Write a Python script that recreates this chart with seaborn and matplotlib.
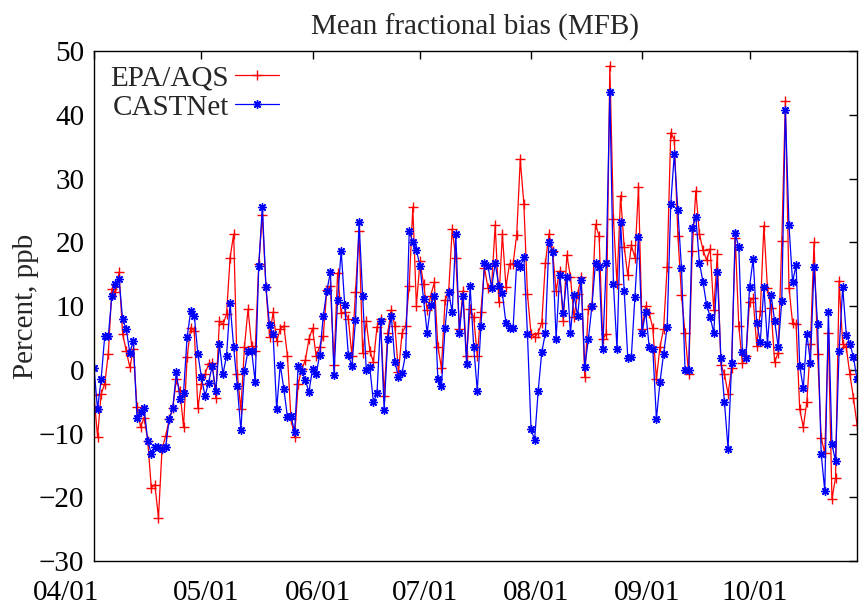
import numpy as np
import pandas as pd
import matplotlib
matplotlib.use("Agg")
import matplotlib.pyplot as plt
import matplotlib.dates as mdates
import matplotlib.transforms as mtransforms
import seaborn as sns

# daily MFB values, 04/01 .. 10/31
epa_aqs = [
    -4.0, -10.5, -3.8, -2.2, 2.5, 12.7, 12.2, 15.3, 5.6, 3.0,
    0.4, 3.2, -5.9, -9.0, -7.5, -11.1, -18.5, -18.0, -23.2, -12.4,
    -10.4, -7.8, -6.0, -1.5, -3.3, -9.0, 2.0, 6.6, 6.1, -6.0,
    -2.2, -0.7, 0.9, 1.1, -4.4, 7.6, 7.1, 8.7, 17.6, 21.3,
    -0.7, -6.2, 3.5, 9.5, 3.8, 3.0, 16.6, 24.3, 13.0, 5.2,
    9.0, 4.5, 6.4, 6.9, 2.2, -7.7, -10.6, -2.2, 0.1, 1.5,
    4.8, 6.5, 2.2, 3.6, 5.3, 12.5, 13.1, 0.8, 15.2, 8.9,
    9.0, 8.0, 2.2, 12.2, 21.8, 2.6, 7.6, 3.0, 1.2, 6.7,
    8.0, -4.1, 5.8, 9.4, 6.8, -0.4, 5.8, 6.8, 13.2, 25.5,
    10.0, 17.0, 13.5, 9.4, 11.6, 13.7, 3.6, 0.3, 10.9, 12.2,
    22.1, 17.5, 6.4, 12.4, 2.2, 9.5, 8.2, 2.2, 9.0, 16.0,
    12.8, 13.2, 22.7, 10.7, 21.3, 13.0, 16.6, 16.6, 21.2, 33.0,
    26.0, 11.9, 5.6, 5.1, 5.8, 7.4, 16.7, 21.3, 18.7, 12.4,
    15.5, 7.6, 18.0, 14.6, 8.3, 11.9, 14.6, -1.2, 9.5, 10.0,
    22.8, 21.0, 4.8, 5.6, 47.7, 23.7, 13.5, 27.3, 19.3, 14.8,
    19.5, 17.6, 28.7, 6.4, 10.0, 8.9, 6.5, -1.5, 3.6, 6.4,
    16.1, 37.2, 36.1, 21.0, 11.7, 5.7, -0.7, 18.7, 28.1, 21.3,
    18.8, 17.2, 19.0, 9.4, 18.1, 0.8, -0.7, -3.8, 0.3, 20.7,
    6.8, 1.0, 2.2, 10.7, 11.2, 3.8, 9.2, 22.6, 12.8, 9.7,
    1.2, 2.7, 20.2, 42.1, 12.9, 7.4, 7.1, -6.2, -9.0, -5.0,
    4.0, 20.0, 2.5, -10.7, -13.1, 5.8, -20.3, -16.9, 13.9, 4.1,
    3.5, -0.7, -4.4, -8.6,
]

castnet = [
    0.3, -6.2, -1.5, 5.3, 5.3, 11.6, 13.5, 14.2, 7.9, 6.4,
    2.7, 4.5, -7.5, -6.7, -6.0, -11.1, -13.2, -12.1, -12.1, -12.4,
    -12.1, -7.8, -6.0, -0.4, -4.6, -3.6, 5.1, 9.2, 8.5, 2.5,
    -1.2, -4.1, -2.0, 0.6, -3.3, 4.0, -0.7, 2.2, 10.4, 3.5,
    -2.5, -9.5, -0.2, 3.0, 3.0, -1.9, 16.3, 25.6, 13.0, 7.0,
    5.6, -6.2, 0.8, -3.0, -7.4, -7.2, -9.8, 0.6, -0.2, -1.6,
    -3.5, 0.1, -0.7, 2.3, 8.4, 12.4, 15.3, -0.8, 11.0, 18.7,
    10.1, 2.3, 0.6, 7.8, 23.2, 11.5, 0.0, 0.4, -5.1, -3.7,
    7.6, -6.3, 4.8, 8.5, 1.2, -1.1, -0.5, 2.5, 21.7, 20.1,
    18.8, 16.3, 11.1, 5.8, 10.1, 11.6, -1.5, -2.5, 6.6, 12.2,
    9.0, 21.3, 5.8, 11.6, 0.9, 13.1, 3.6, -3.3, 6.8, 16.7,
    16.2, 12.8, 16.7, 13.2, 12.0, 7.3, 6.6, 6.6, 16.8, 16.1,
    17.7, 5.6, -9.3, -11.0, -3.3, 2.8, 5.7, 20.0, 18.5, 4.9,
    14.8, 8.9, 14.6, 5.8, 11.7, 8.4, 14.1, 0.4, 4.8, 10.0,
    16.8, 16.1, 3.2, 16.7, 43.6, 13.5, 3.2, 23.1, 12.4, 1.9,
    2.0, 11.4, 20.9, 5.8, 9.1, 3.5, 3.2, -7.7, -1.9, 2.5,
    6.7, 26.0, 33.9, 25.0, 15.9, 0.0, 0.0, 22.3, 24.0, 16.8,
    13.8, 10.2, 8.3, 5.8, 15.3, 1.8, -5.1, -12.4, 1.0, 21.4,
    19.2, 2.8, 1.9, 13.0, 17.4, 7.4, 4.4, 13.0, 4.1, 11.7,
    7.7, 3.6, 10.8, 40.7, 22.7, 13.8, 16.4, 0.6, -2.9, 5.6,
    1.1, 16.1, 7.1, -13.2, -19.0, 9.1, -11.7, -14.3, 3.0, 13.0,
    5.5, 4.1, 2.0, -1.5,
]

dates = pd.date_range("2010-04-01", periods=len(epa_aqs), freq="D")

sns.set_style("white")
plt.rcParams["font.family"] = ["Liberation Serif", "DejaVu Serif"]
fs = 21

fig = plt.figure(figsize=(8.59, 6.05), dpi=100)
ax = fig.add_axes([0.1094, 0.0727, 0.8883, 0.8430])

sns.lineplot(x=dates, y=epa_aqs, ax=ax, color="red", linewidth=0.9,
             marker="+", markersize=7, markeredgewidth=1.0,
             markeredgecolor="red", label="EPA/AQS")
sns.lineplot(x=dates, y=castnet, ax=ax, color="blue", linewidth=0.9,
             marker=(8, 2, 0), markersize=6, markeredgewidth=1.0,
             markeredgecolor="blue", label="CASTNet")

ax.set_xlim(pd.Timestamp("2010-04-01"), pd.Timestamp("2010-10-31"))
ax.set_ylim(-30, 50)
ax.set_yticks(range(-30, 51, 10))
ax.xaxis.set_major_locator(mdates.MonthLocator())
ax.xaxis.set_major_formatter(mdates.DateFormatter("%m/%d"))

ax.tick_params(direction="in", length=6, width=1, top=True, right=True,
               labelsize=fs, colors="black")
ax.tick_params(axis="y", pad=7)
ax.tick_params(axis="x", pad=14)
for s in ax.spines.values():
    s.set_color("black")
    s.set_linewidth(1.0)

# gnuplot-like placement of the date labels
shift = mtransforms.ScaledTranslation(0.05, 0, fig.dpi_scale_trans)
xlabels = ax.get_xticklabels()
for lab in xlabels:
    lab.set_transform(lab.get_transform() + shift)
xlabels[0].set_horizontalalignment("right")

ax.set_title("Mean fractional bias (MFB)", fontsize=fs, pad=12)
ax.set_xlabel("")
ax.set_ylabel("Percent, ppb", fontsize=fs, labelpad=0)

ax.legend(loc="upper left", bbox_to_anchor=(-0.003, 1.01), frameon=False,
          markerfirst=False, fontsize=fs, handlelength=1.5,
          handletextpad=0.2, labelspacing=0.1, borderaxespad=0.2,
          borderpad=0.45)

fig.savefig("out.png", dpi=100)
